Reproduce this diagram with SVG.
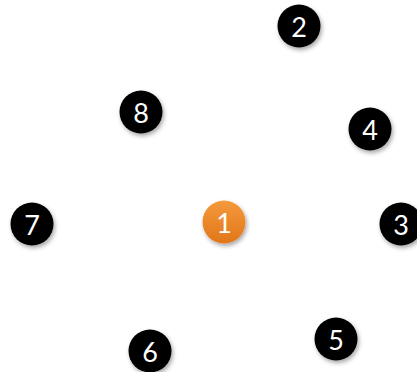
<svg xmlns="http://www.w3.org/2000/svg" width="417" height="372" viewBox="0 0 417 372">
<defs>
<filter id="sh" x="-30%" y="-30%" width="170%" height="170%">
<feDropShadow dx="1.5" dy="2.5" stdDeviation="2" flood-color="#000" flood-opacity="0.35"/>
</filter>
<linearGradient id="og" x1="0" y1="0" x2="0" y2="1">
<stop offset="0" stop-color="#F59A3C"/>
<stop offset="1" stop-color="#E1761A"/>
</linearGradient>
<style>
.b{fill:#000;filter:url(#sh)}
.o{fill:url(#og);filter:url(#sh)}
.t{font-family:Lato,"Open Sans","Liberation Sans",sans-serif;font-size:27px;fill:#fff;text-anchor:middle;dominant-baseline:central}
</style>
</defs>
<rect width="417" height="372" fill="#fff"/>
<g id="connectors"></g>
<g id="n1"><circle class="o" cx="224" cy="222" r="21.5"/><text class="t" x="224" y="222">1</text></g>
<g id="n2"><circle class="b" cx="299" cy="26" r="21.5"/><text class="t" x="299" y="26">2</text></g>
<g id="n3"><circle class="b" cx="401" cy="224" r="21.5"/><text class="t" x="401" y="224">3</text></g>
<g id="n4"><circle class="b" cx="370" cy="129" r="21.5"/><text class="t" x="370" y="129">4</text></g>
<g id="n5"><circle class="b" cx="336" cy="339" r="21.5"/><text class="t" x="336" y="339">5</text></g>
<g id="n6"><circle class="b" cx="150" cy="351" r="21.5"/><text class="t" x="150" y="351">6</text></g>
<g id="n7"><circle class="b" cx="32" cy="224" r="21.5"/><text class="t" x="32" y="224">7</text></g>
<g id="n8"><circle class="b" cx="141" cy="112" r="21.5"/><text class="t" x="141" y="112">8</text></g>
</svg>
